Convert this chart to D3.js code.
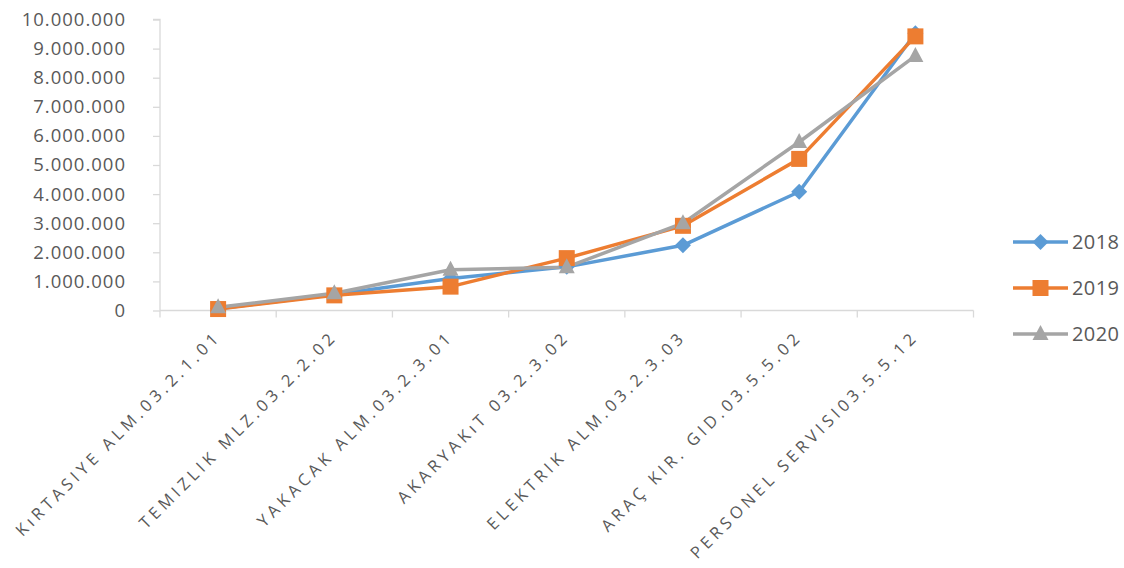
<!DOCTYPE html>
<html><head><meta charset="utf-8">
<script src="https://cdn.jsdelivr.net/npm/d3@7"></script>
<style>body{margin:0;background:#fff;} svg{display:block;}</style>
</head><body>
<svg id="chart" width="1124" height="568"></svg>
<script>
const categories = ["KıRTASIYE ALM.03.2.1.01","TEMIZLIK MLZ.03.2.2.02","YAKACAK ALM.03.2.3.01","AKARYAKıT 03.2.3.02","ELEKTRIK ALM.03.2.3.03","ARAÇ KIR. GID.03.5.5.02","PERSONEL SERVISI03.5.5.12"];
const s2018 = [60000, 550000, 1100000, 1500000, 2240000, 4080000, 9530000];
const s2019 = [50000, 520000, 820000, 1800000, 2910000, 5210000, 9420000];
const s2020 = [110000, 590000, 1400000, 1490000, 3000000, 5790000, 8750000];
const seriesNames = ["2018","2019","2020"];
const colors = ["#5b9bd5","#ed7d31","#a5a5a5"];
const yTicks = [0,1000000,2000000,3000000,4000000,5000000,6000000,7000000,8000000,9000000,10000000];

const svg = d3.select("#chart");
const x = d3.scaleBand().domain(categories).range([160, 973.5]);
const y = d3.scaleLinear().domain([0, 10000000]).range([310.5, 19.5]);
const fmt = v => d3.format(",")(v).replace(/,/g, ".");
const axisColor = "#d9d9d9", textColor = "#595959";
const font = "'Open Sans', sans-serif";

// Y axis
const ya = svg.append("g").attr("transform","translate(160,0)")
  .call(d3.axisLeft(y).tickValues(yTicks).tickFormat(fmt).tickSize(7).tickPadding(27));
ya.select(".domain").attr("stroke", axisColor).attr("stroke-width",1.3).attr("d", `M-7,${y(10000000)}H0V${y(0)}`);
ya.selectAll(".tick line").attr("stroke", axisColor).attr("stroke-width",1.3);
ya.selectAll(".tick text").attr("fill", textColor).style("font-family",font).style("font-size","18.5px").style("letter-spacing","1.0px");

// X axis
const xa = svg.append("g").attr("transform",`translate(0,${y(0)})`);
xa.append("line").attr("x1",160).attr("x2",973.5).attr("y1",0).attr("y2",0).attr("stroke",axisColor).attr("stroke-width",1.3);
const tickPos = categories.map(c => x(c)).concat([x(categories[categories.length-1]) + x.bandwidth()]);
xa.selectAll("line.t").data(tickPos).enter().append("line").attr("class","t")
  .attr("x1",d=>d).attr("x2",d=>d).attr("y1",0).attr("y2",7).attr("stroke",axisColor).attr("stroke-width",1.3);
xa.selectAll("text").data(categories).enter().append("text")
  .attr("transform", d => `translate(${x(d)+x.bandwidth()/2},${23}) rotate(-45)`)
  .attr("text-anchor","end").attr("dy","0.35em")
  .attr("fill", textColor).style("font-family",font).style("font-size","16.5px").style("letter-spacing","4.1px")
  .text(d => d);

// Lines
const all = [s2018, s2019, s2020];
const line = d3.line().x((d,i) => x(categories[i]) + x.bandwidth()/2).y(d => y(d));
all.forEach((s, k) => {
  svg.append("path").datum(s).attr("d", line).attr("fill","none").attr("stroke", colors[k]).attr("stroke-width",3.5).attr("stroke-linejoin","round");
});
function marker(g, k, cx, cy) {
  if (k === 0) g.append("path").attr("d", `M${cx},${cy-8}L${cx+8},${cy}L${cx},${cy+8}L${cx-8},${cy}Z`).attr("fill", colors[0]);
  else if (k === 1) g.append("rect").attr("x",cx-8).attr("y",cy-8).attr("width",16).attr("height",16).attr("fill",colors[1]);
  else g.append("path").attr("d", `M${cx},${cy-9}L${cx+8},${cy+6}L${cx-8},${cy+6}Z`).attr("fill", colors[2]);
}
all.forEach((s, k) => {
  const g = svg.append("g");
  s.forEach((v,i) => marker(g, k, x(categories[i]) + x.bandwidth()/2, y(v)));
});

// Legend
seriesNames.forEach((n, k) => {
  const ly = 242 + k*46;
  svg.append("line").attr("x1",1013).attr("x2",1068).attr("y1",ly).attr("y2",ly).attr("stroke",colors[k]).attr("stroke-width",3.5);
  marker(svg, k, 1040.5, ly);
  svg.append("text").attr("x",1072).attr("y",ly).attr("dy","0.35em").attr("fill",textColor)
    .style("font-family",font).style("font-size","20px").style("letter-spacing","0.4px").text(n);
});
</script>
</body></html>
